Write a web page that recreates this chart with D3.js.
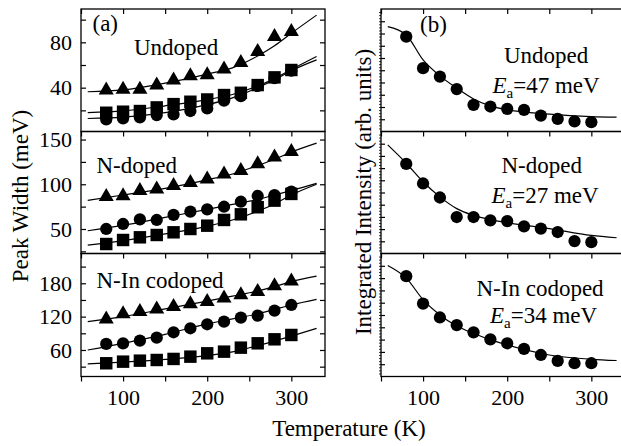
<!DOCTYPE html>
<html>
<head>
<meta charset="utf-8">
<script src="https://cdn.jsdelivr.net/npm/d3@7"></script>
<style>
body { margin: 0; background: #fff; }
text { font-family: "Liberation Serif", "Times New Roman", serif; fill: #000; }
</style>
</head>
<body>
<svg></svg>
<script>
// temperatures of the measured points (K)
const temps = [80, 100, 120, 140, 160, 180, 200, 220, 240, 260, 280, 300];

// (a) peak widths (meV)
const undopedTri  = [37.9, 38.5, 38.5, 42.3, 46.7, 50.3, 51.2, 56.4, 62.0, 71.8, 85.0, 89.4];
const undopedSq   = [17.9, 18.8, 19.4, 22.6, 25.5, 27.6, 29.6, 33.5, 35.5, 42.3, 49.1, 55.6];
const undopedCirc = [12.0, 12.9, 13.8, 15.8, 16.4, 19.4, 21.7, 28.5, 32.5, 41.5, 48.5, 55.0];
const ndopedTri   = [86.1, 86.9, 92.8, 94.4, 98.4, 101.8, 105.6, 111.2, 115.2, 122.7, 130.2, 136.5];
const ndopedCirc  = [50.0, 55.6, 60.8, 60.1, 65.7, 69.4, 72.0, 74.9, 80.5, 86.9, 88.0, 91.7];
const ndopedSq    = [33.2, 37.7, 40.7, 43.3, 46.3, 50.0, 53.7, 60.1, 66.4, 74.3, 81.7, 89.2];
const ninTri      = [115.3, 124.9, 129.0, 133.3, 138.0, 142.9, 147.0, 153.1, 159.0, 165.0, 175.3, 184.0];
const ninCirc     = [70.9, 72.0, 76.8, 82.2, 91.9, 99.1, 106.3, 111.0, 118.2, 121.8, 130.8, 141.0];
const ninSq       = [36.1, 39.0, 40.8, 42.0, 43.9, 48.0, 54.0, 57.0, 64.2, 72.0, 79.2, 87.0];

// (a) fitted curves
const fitTA = [58, 100, 150, 200, 230, 260, 280, 300, 330];
const undopedTriFit  = [36.4, 38.0, 44.0, 52.0, 57.5, 68.0, 77.0, 88.0, 104.0];
const undopedSqFit   = [18.0, 19.5, 24.0, 29.5, 34.0, 41.5, 48.0, 56.0, 67.5];
const undopedCircFit = [12.8, 14.0, 18.0, 25.0, 31.0, 40.0, 47.0, 55.0, 64.5];
const ndopedTriFit   = [82.0, 88.0, 95.5, 105.0, 111.5, 121.0, 128.0, 136.0, 146.0];
const ndopedCircFit  = [48.0, 54.0, 63.0, 72.0, 77.5, 83.0, 88.0, 93.0, 101.0];
const ndopedSqFit    = [32.0, 37.0, 44.5, 53.0, 60.0, 70.0, 78.0, 88.0, 100.0];
const ninTriFit      = [111.0, 120.0, 134.0, 148.0, 157.0, 166.0, 174.0, 183.0, 193.0];
const ninCircFit     = [60.0, 72.0, 88.0, 107.0, 116.0, 125.0, 133.0, 141.0, 151.0];
const ninSqFit       = [35.0, 38.0, 43.0, 50.0, 56.5, 68.0, 76.0, 85.0, 99.0];

// (b) integrated intensity (arb. units)
const undopedInt = [77.4, 51.7, 44.8, 34.6, 21.8, 20.4, 18.5, 17.7, 13.0, 10.3, 8.2, 7.6];
const ndopedInt  = [73.4, 57.4, 45.9, 29.9, 29.9, 27.2, 26.6, 22.3, 20.4, 17.6, 10.2, 9.3];
const ninInt     = [81.6, 59.3, 48.0, 41.8, 35.9, 30.2, 27.0, 22.4, 17.5, 12.7, 10.8, 10.8];

const fitTB = [58, 80, 100, 120, 140, 160, 180, 200, 250, 300, 330];
const undopedIntFit = [85.6, 78.8, 58.4, 45.4, 35.4, 26.6, 20.9, 17.7, 14.2, 12.2, 11.7];
const ndopedIntFit  = [89.0, 74.0, 58.8, 46.4, 36.8, 31.3, 27.8, 25.3, 20.4, 14.8, 12.9];
const ninIntFit     = [90.3, 80.0, 62.5, 50.0, 41.0, 35.0, 30.0, 25.6, 17.5, 14.0, 13.0];

const xTicks = [50, 100, 150, 200, 250, 300];
const xLabels = [100, 200, 300];

const width = 621, height = 446;
const svg = d3.select("svg").attr("width", width).attr("height", height);

const rows = [[9, 131.5], [131.5, 253.5], [253.5, 376.5]];
const xA = d3.scaleLinear().domain([50, 340]).range([81, 325]);
const xB = d3.scaleLinear().domain([50, 340]).range([381, 625]);

// left column y settings
const leftY = [
    { domain: [1.35, 109.4], ticks: [20, 40, 60, 80, 100], labels: [40, 80] },
    { domain: [22.6, 159], ticks: [25, 50, 75, 100, 125, 150], labels: [50, 100, 150] },
    { domain: [12.3, 233.6], ticks: [30, 60, 90, 120, 150, 180, 210], labels: [60, 120, 180] }
];

const tri = d3.symbol().type(d3.symbolTriangle).size(98)();
const sq = d3.symbol().type(d3.symbolSquare).size(155)();
const circ = d3.symbol().type(d3.symbolCircle).size(118)();

function frame(x, y, r, isLeft, yInfo, last) {
    let g = svg.append("g");
    // top ticks inward
    g.append("g").attr("transform", `translate(0,${r[0]})`)
        .call(d3.axisTop(x).tickValues(xTicks).tickSize(-5).tickSizeOuter(0).tickFormat(""));
    if (last) {
        g.append("g").attr("transform", `translate(0,${r[1]})`)
            .call(d3.axisBottom(x).tickValues(xTicks).tickSize(5).tickSizeOuter(0).tickPadding(8)
                .tickFormat(d => xLabels.includes(d) ? d : ""));
    }
    if (isLeft) {
        g.append("g").attr("transform", `translate(${x.range()[0]},0)`)
            .call(d3.axisLeft(y).tickValues(yInfo.ticks).tickSize(-5).tickSizeOuter(0).tickPadding(9)
                .tickFormat(d => yInfo.labels.includes(d) ? d : ""));
        g.append("g").attr("transform", `translate(${x.range()[1]},0)`)
            .call(d3.axisRight(y).tickValues(yInfo.ticks).tickSize(-5).tickSizeOuter(0).tickFormat(""));
    } else {
        g.append("g").attr("transform", `translate(${x.range()[0]},0)`)
            .call(d3.axisLeft(y).tickValues(d3.range(10, 100, 10)).tickSize(-4).tickSizeOuter(0).tickFormat(""));
        g.append("g").attr("transform", `translate(${x.range()[0]},0)`)
            .call(d3.axisLeft(y).tickValues(d3.range(2.5, 100, 2.5)).tickSize(2).tickSizeOuter(0).tickFormat(""))
            .selectAll("line").attr("stroke-width", 0.8);
    }
    g.selectAll(".domain").remove();
    g.selectAll("line").attr("stroke", "#000").attr("stroke-width", function() {
        return d3.select(this).attr("stroke-width") || 1.2;
    });
    g.selectAll("text").attr("font-size", 22).attr("font-family", "Liberation Serif, serif").attr("fill", "#000");
    g.append("rect")
        .attr("x", x.range()[0]).attr("y", r[0])
        .attr("width", x.range()[1] - x.range()[0]).attr("height", r[1] - r[0])
        .attr("fill", "none").attr("stroke", "#000").attr("stroke-width", 1.3);
}

function fitLine(x, y, ts, vals) {
    let line = d3.line().x(d => x(d[0])).y(d => y(d[1])).curve(d3.curveMonotoneX);
    svg.append("path")
        .datum(ts.map((t, i) => [t, vals[i]]))
        .attr("d", line)
        .attr("fill", "none").attr("stroke", "#000").attr("stroke-width", 1.2);
}

function marks(x, y, vals, shape) {
    svg.append("g").selectAll("path")
        .data(vals)
        .enter()
        .append("path")
        .attr("d", shape)
        .attr("transform", (d, i) => `translate(${x(temps[i])},${y(d)})`)
        .attr("fill", "#000");
}

// (a) panels
const aSets = [
    [[undopedTri, undopedTriFit, tri], [undopedSq, undopedSqFit, sq], [undopedCirc, undopedCircFit, circ]],
    [[ndopedTri, ndopedTriFit, tri], [ndopedCirc, ndopedCircFit, circ], [ndopedSq, ndopedSqFit, sq]],
    [[ninTri, ninTriFit, tri], [ninCirc, ninCircFit, circ], [ninSq, ninSqFit, sq]]
];
rows.forEach((r, k) => {
    let y = d3.scaleLinear().domain(leftY[k].domain).range([r[1], r[0]]);
    frame(xA, y, r, true, leftY[k], k === 2);
    aSets[k].forEach(s => fitLine(xA, y, fitTA, s[1]));
    // circles first so squares sit on top, as in the picture
    aSets[k].filter(s => s[2] === circ).forEach(s => marks(xA, y, s[0], s[2]));
    aSets[k].filter(s => s[2] !== circ).forEach(s => marks(xA, y, s[0], s[2]));
});

// (b) panels
const bSets = [[undopedInt, undopedIntFit], [ndopedInt, ndopedIntFit], [ninInt, ninIntFit]];
rows.forEach((r, k) => {
    let y = d3.scaleLinear().domain([0, 100]).range([r[1], r[0]]);
    frame(xB, y, r, false, null, k === 2);
    fitLine(xB, y, fitTB, bSets[k][1]);
    marks(xB, y, bSets[k][0], circ);
});

// labels
function label(x, y, str) {
    svg.append("text").attr("x", x).attr("y", y).attr("font-size", 23).text(str);
}
label(92.5, 31, "(a)");
label(134, 55, "Undoped");
label(96.5, 173, "N-doped");
label(96.5, 288, "N-In codoped");
label(420, 32, "(b)");
label(504, 63, "Undoped");
label(501.5, 173, "N-doped");
label(476.5, 296, "N-In codoped");

function ea(x, y, val) {
    let t = svg.append("text").attr("x", x).attr("y", y).attr("font-size", 23);
    t.append("tspan").attr("font-style", "italic").text("E");
    t.append("tspan").attr("font-size", 15).attr("dy", 5).text("a");
    t.append("tspan").attr("dy", -5).text(`=${val} meV`);
}
ea(492.5, 93, 47);
ea(491.5, 203, 27);
ea(490, 323, 34);

svg.append("text")
    .attr("transform", "translate(28,196) rotate(-90)")
    .attr("text-anchor", "middle").attr("font-size", 23)
    .text("Peak Width (meV)");
svg.append("text")
    .attr("transform", "translate(371,192) rotate(-90)")
    .attr("text-anchor", "middle").attr("font-size", 23)
    .text("Integrated Intensity (arb. units)");
svg.append("text")
    .attr("x", 349).attr("y", 436)
    .attr("text-anchor", "middle").attr("font-size", 23)
    .text("Temperature (K)");
</script>
</body>
</html>
